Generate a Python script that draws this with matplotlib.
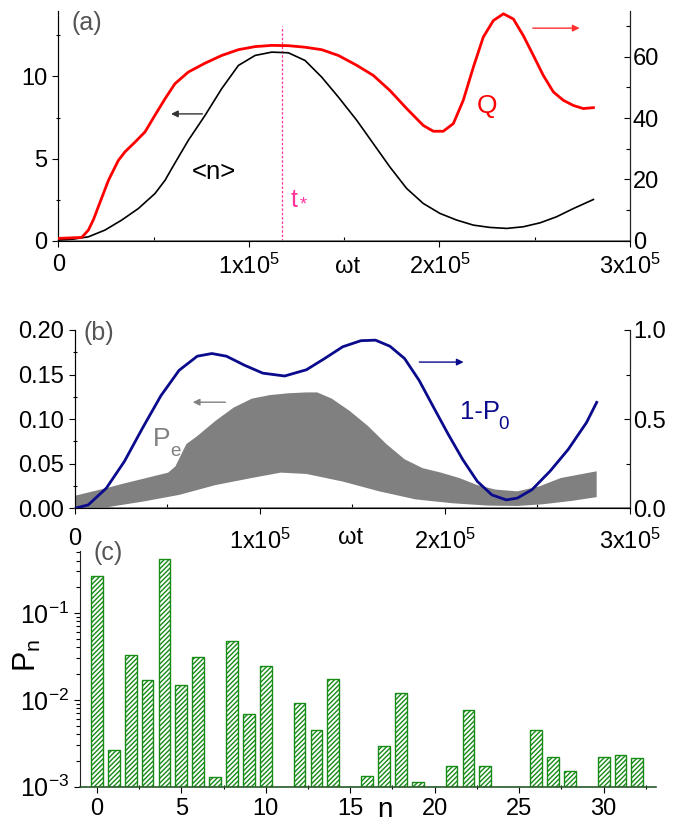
import matplotlib
matplotlib.use("Agg")
import matplotlib.pyplot as plt
from matplotlib.ticker import MultipleLocator, FormatStrFormatter, FixedLocator, NullFormatter, LogLocator
import numpy as np

plt.rcParams['font.family'] = ['Liberation Sans', 'DejaVu Sans']
plt.rcParams['mathtext.fontset'] = 'custom'
plt.rcParams['mathtext.rm'] = 'Liberation Sans'
plt.rcParams['mathtext.it'] = 'Liberation Sans'
plt.rcParams['mathtext.bf'] = 'Liberation Sans:bold'
plt.rcParams['mathtext.default'] = 'regular'
plt.rcParams['hatch.linewidth'] = 1.0

# ---------------- data ----------------
# panel (a): <n> (left axis) and Q (right axis) vs omega t (units of 1e5)
t_n = [0, 0.08, 0.158, 0.245, 0.333, 0.42, 0.507, 0.56, 0.595, 0.682, 0.77, 0.857, 0.945, 1.033,
       1.12, 1.207, 1.295, 1.382, 1.47, 1.566, 1.653, 1.74, 1.828, 1.915, 2.003, 2.09, 2.178,
       2.265, 2.353, 2.44, 2.528, 2.615, 2.703, 2.808]
n_mean = [0.04, 0.1, 0.24, 0.65, 1.26, 1.96, 2.87, 3.68, 4.39, 6.11, 7.63, 9.25, 10.67, 11.28,
          11.48, 11.44, 10.97, 9.96, 8.74, 7.33, 5.91, 4.49, 3.18, 2.27, 1.66, 1.26, 0.95,
          0.81, 0.75, 0.85, 1.09, 1.46, 1.96, 2.51]

t_q = [0, 0.123, 0.158, 0.185, 0.21, 0.263, 0.315, 0.35, 0.403, 0.455, 0.507, 0.56, 0.612, 0.682,
       0.77, 0.857, 0.945, 1.033, 1.12, 1.207, 1.295, 1.382, 1.47, 1.566, 1.653, 1.74, 1.828,
       1.915, 1.968, 2.02, 2.073, 2.125, 2.178, 2.23, 2.283, 2.336, 2.388, 2.44, 2.493, 2.545,
       2.598, 2.65, 2.703, 2.755, 2.808]
q_val = [0.76, 1.08, 3.5, 7.0, 11.1, 19.7, 26.2, 29.0, 32.2, 35.5, 40.9, 46.3, 51.2, 55.0,
         57.9, 60.4, 62.3, 63.3, 63.7, 63.6, 63.1, 62.3, 60.4, 57.2, 53.9, 49.0, 43.1,
         37.6, 35.7, 35.7, 38.2, 45.8, 56.6, 66.4, 71.8, 74.0, 72.3, 66.9, 60.4, 53.9,
         48.5, 45.8, 44.1, 43.1, 43.4]
t_star = 1.172

# panel (b): 1-P0 (right axis) and the fast-oscillating Pe band (left axis)
t_p0 = [0, 0.073, 0.171, 0.269, 0.368, 0.466, 0.564, 0.662, 0.741, 0.82, 0.918, 1.016, 1.134,
        1.252, 1.35, 1.448, 1.546, 1.625, 1.703, 1.782, 1.861, 1.939, 2.018, 2.096, 2.175,
        2.254, 2.332, 2.391, 2.47, 2.568, 2.666, 2.765, 2.82]
one_minus_p0 = [0, 0.019, 0.113, 0.264, 0.453, 0.632, 0.774, 0.853, 0.868, 0.853, 0.802, 0.758,
                0.742, 0.777, 0.84, 0.906, 0.94, 0.943, 0.909, 0.84, 0.717, 0.566, 0.415,
                0.274, 0.151, 0.075, 0.047, 0.057, 0.104, 0.208, 0.33, 0.481, 0.594]

t_pe_up = [0, 0.171, 0.269, 0.368, 0.505, 0.544, 0.603, 0.662, 0.76, 0.859, 0.957, 1.055, 1.153,
           1.252, 1.31, 1.389, 1.487, 1.586, 1.684, 1.782, 1.88, 1.979, 2.077, 2.175, 2.273,
           2.391, 2.509, 2.627, 2.82]
pe_upper = [0.014, 0.0226, 0.028, 0.033, 0.040, 0.047, 0.072, 0.081, 0.098, 0.113, 0.123, 0.127,
            0.129, 0.130, 0.130, 0.123, 0.109, 0.092, 0.072, 0.055, 0.045, 0.040, 0.034, 0.026,
            0.021, 0.019, 0.0245, 0.034, 0.0415]
t_pe_low = [0, 0.171, 0.368, 0.564, 0.76, 0.957, 1.114, 1.252, 1.448, 1.645, 1.841, 2.037, 2.234,
            2.391, 2.529, 2.686, 2.82]
pe_lower = [0.0, 0.001, 0.0075, 0.015, 0.026, 0.034, 0.040, 0.0385, 0.030, 0.019, 0.010, 0.0057,
            0.003, 0.0026, 0.0045, 0.0083, 0.0125]

# panel (c): photon number distribution P_n
n_vals = list(range(33))
p_n = [0.267, 0.00265, 0.033, 0.017, 0.42, 0.0149, 0.031, 0.00128, 0.047, 0.0069, 0.0243,
       0.001, 0.00916, 0.0045, 0.0175, 0.001, 0.00132, 0.00294, 0.012, 0.00113, 0.001,
       0.00173, 0.0077, 0.00173, 0.001, 0.001, 0.0045, 0.00218, 0.00152, 0.001,
       0.00218, 0.0023, 0.00215]

xtick_vals = [0, 1, 2, 3]
xtick_labels = ['0', '1x10$^5$', '2x10$^5$', '3x10$^5$']

SC = 1e5
TFS = 17

fig = plt.figure(figsize=(6.83, 8.25), dpi=100)

def style_time_axis(ax):
    ax.set_xlim(0, 3 * SC)
    ax.xaxis.set_major_locator(FixedLocator([v * SC for v in xtick_vals]))
    ax.set_xticklabels(xtick_labels)
    ax.xaxis.set_minor_locator(MultipleLocator(0.5 * SC))

def sub_label(ax, x, y, main, sub, color, fs_main, fs_sub, dx, dy):
    ax.text(x, y, main, fontsize=fs_main, color=color, ha='left', va='baseline')
    ax.annotate(sub, xy=(x, y), xytext=(dx, dy), textcoords='offset points',
                fontsize=fs_sub, color=color, ha='left', va='baseline')

# ---------------- panel (a) ----------------
axa = fig.add_axes([0.0854, 0.7082, 0.837, 0.2788])
axa2 = axa.twinx()
axa.plot([v * SC for v in t_n], n_mean, color='black', lw=1.2, zorder=3)
axa2.plot([v * SC for v in t_q], q_val, color='#ff0000', lw=2.0, zorder=3)
axa.plot([t_star * SC, t_star * SC], [0, 13.1], color='#ff3399', lw=0.9, ls=(0, (2, 1.5)))
axa.set_ylim(0, 14)
axa2.set_ylim(0, 75)
style_time_axis(axa)
axa.yaxis.set_major_locator(MultipleLocator(5))
axa.yaxis.set_minor_locator(MultipleLocator(2.5))
axa2.yaxis.set_major_locator(MultipleLocator(20))
axa2.yaxis.set_minor_locator(MultipleLocator(10))
axa.annotate('', xy=(0.577 * SC, 7.72), xytext=(0.771 * SC, 7.72),
             arrowprops=dict(arrowstyle='-|>', color='#333333', lw=1.0, mutation_scale=10))
axa.annotate('', xy=(2.75 * SC, 12.94), xytext=(2.475 * SC, 12.94),
             arrowprops=dict(arrowstyle='-|>', color='#ff3030', lw=1.0, mutation_scale=10))
axa.text(0.814 * SC, 4.19, '<n>', fontsize=18.5, ha='center', va='center', color='black')
axa.text(2.248 * SC, 8.18, 'Q', fontsize=19, ha='center', va='center', color='#ff0000')
sub_label(axa, 1.221 * SC, 2.06, 't', '*', '#ff3399', 18, 13, 6, -2)
axa.text(0.023, 0.945, '(a)', transform=axa.transAxes, fontsize=18, color='#555555',
         ha='left', va='center')
axa.text(1.52 * SC, -0.115, 'ωt', transform=axa.get_xaxis_transform(), fontsize=17,
         ha='center', va='center')

# ---------------- panel (b) ----------------
axb = fig.add_axes([0.1094, 0.3839, 0.813, 0.2161])
axb2 = axb.twinx()
band_t = [v * SC for v in t_pe_up] + [v * SC for v in t_pe_low[::-1]]
band_y = pe_upper + pe_lower[::-1]
axb.fill(band_t, band_y, color='#808080', lw=0, zorder=2)
axb2.plot([v * SC for v in t_p0], one_minus_p0, color='#0a0a8c', lw=2.0, zorder=3)
axb.set_ylim(0, 0.20)
axb2.set_ylim(0, 1.0)
style_time_axis(axb)
axb.yaxis.set_major_locator(MultipleLocator(0.05))
axb.yaxis.set_minor_locator(MultipleLocator(0.025))
axb.yaxis.set_major_formatter(FormatStrFormatter('%.2f'))
axb2.yaxis.set_major_locator(MultipleLocator(0.5))
axb2.yaxis.set_minor_locator(MultipleLocator(0.25))
axb2.yaxis.set_major_formatter(FormatStrFormatter('%.1f'))
axb.annotate('', xy=(0.623 * SC, 0.119), xytext=(0.829 * SC, 0.119),
             arrowprops=dict(arrowstyle='-|>', color='#808080', lw=1.0, mutation_scale=10))
axb.annotate('', xy=(2.116 * SC, 0.164), xytext=(1.847 * SC, 0.164),
             arrowprops=dict(arrowstyle='-|>', color='#0a0a8c', lw=1.0, mutation_scale=10))
sub_label(axb, 2.08 * SC, 0.100, '1-P', '0', '#0a0a8c', 18.5, 13.5, 28, -7.2)
sub_label(axb, 0.42 * SC, 0.0698, 'P', 'e', '#808080', 19, 13.5, 13, -7.2)
axb.text(0.015, 0.985, '(b)', transform=axb.transAxes, fontsize=18, color='#555555',
         ha='left', va='center')
axb.text(1.49 * SC, -0.167, 'ωt', transform=axb.get_xaxis_transform(), fontsize=17,
         ha='center', va='center')

# ---------------- panel (c) ----------------
axc = fig.add_axes([0.1171, 0.0464, 0.8433, 0.2861])
floor = 1e-3
axc.set_yscale('log')
axc.bar(n_vals, [p - floor for p in p_n], bottom=floor, width=0.7, facecolor='white',
        edgecolor='#178a17', hatch='///////', lw=1.0, zorder=2)
axc.set_ylim(1e-3, 0.52)
axc.set_xlim(-1.0, 33.1)
axc.xaxis.set_major_locator(MultipleLocator(5))
axc.xaxis.set_minor_locator(MultipleLocator(2.5))
axc.yaxis.set_major_locator(LogLocator(base=10, numticks=10))
axc.yaxis.set_minor_locator(LogLocator(base=10, subs=np.arange(2, 10), numticks=20))
axc.yaxis.set_minor_formatter(NullFormatter())
axc.text(0.024, 0.99, '(c)', transform=axc.transAxes, fontsize=18, color='#555555',
         ha='left', va='center')
fig.text(27 / 683, 1 - 655 / 825, 'P$_n$', rotation=90, fontsize=22, ha='center', va='center')
fig.text(385 / 683, 0.002, 'n', fontsize=20, ha='center', va='bottom')

# ---------------- common styling ----------------
for ax in (axa, axa2, axb, axb2, axc):
    ax.spines['top'].set_visible(False)
    ax.tick_params(which='both', labelsize=TFS, width=0.8)
    ax.tick_params(which='major', length=4.5)
    ax.tick_params(which='minor', length=3)

for ax in (axa, axb):
    ax.spines['bottom'].set_color('#707070')
    ax.spines['bottom'].set_linewidth(1.2)
    ax.spines['left'].set_color('#222222')
    ax.tick_params(axis='x', which='minor', direction='in')
    ax.tick_params(axis='y', which='minor', direction='inout')
axa.tick_params(axis='x', which='major', pad=5)
axb.tick_params(axis='x', which='major', pad=10)
for ax in (axa2, axb2):
    ax.spines['right'].set_color('#222222')
    ax.tick_params(axis='y', which='both', direction='in', pad=2)

axc.spines['right'].set_visible(False)
axc.spines['bottom'].set_color('#2a5a2a')
axc.spines['bottom'].set_linewidth(1.2)
axc.spines['left'].set_color('#222222')
axc.tick_params(axis='y', which='major', labelsize=18)
axc.tick_params(axis='x', which='minor', direction='inout')

fig.savefig('out.png', dpi=100)
